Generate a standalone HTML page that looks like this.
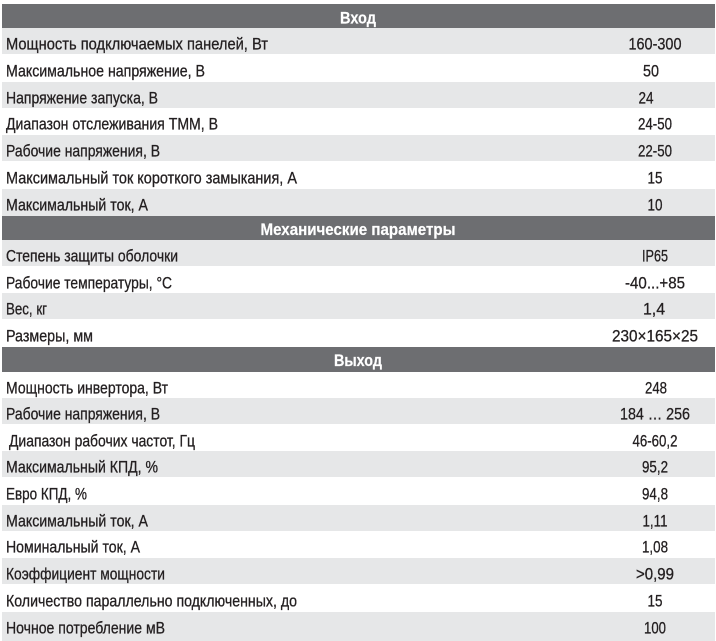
<!DOCTYPE html>
<html><head><meta charset="utf-8"><style>
html,body{margin:0;padding:0;background:#fff;width:716px;height:641px;overflow:hidden}
svg{display:block}
.l{font-family:"Liberation Sans","DejaVu Sans",sans-serif;font-size:16.5px;fill:#231f20;stroke:#231f20;stroke-width:0.3px}
.v{font-family:"Liberation Sans","DejaVu Sans",sans-serif;font-size:16.5px;fill:#231f20;stroke:#231f20;stroke-width:0.3px;text-anchor:middle}
.h{font-family:"Liberation Sans","DejaVu Sans",sans-serif;font-size:16.5px;font-weight:bold;fill:#fff;stroke:#fff;stroke-width:0.2px;text-anchor:middle}
</style></head><body>
<svg width="716" height="641" viewBox="0 0 716 641" xmlns="http://www.w3.org/2000/svg">
<rect x="0" y="0" width="716" height="641" fill="#fff"/>
<!-- headers -->
<rect x="2" y="4" width="713" height="24" fill="#6d6e71"/>
<rect x="2" y="216" width="713" height="24" fill="#6d6e71"/>
<rect x="2" y="347" width="713" height="25" fill="#6d6e71"/>
<!-- grey rows -->
<g fill="#e6e7e8">
<rect x="2" y="28" width="713" height="26"/>
<rect x="2" y="82" width="713" height="26"/>
<rect x="2" y="135" width="713" height="26"/>
<rect x="2" y="189" width="713" height="27"/>
<rect x="2" y="240" width="713" height="26"/>
<rect x="2" y="293" width="713" height="26"/>
<rect x="2" y="398" width="713" height="26"/>
<rect x="2" y="451" width="713" height="26"/>
<rect x="2" y="505" width="713" height="26"/>
<rect x="2" y="558" width="713" height="26"/>
<rect x="2" y="612" width="713" height="29"/>
</g>
<!-- header text -->
<text class="h" x="358" y="23.5" textLength="36" lengthAdjust="spacingAndGlyphs">Вход</text>
<text class="h" x="358" y="235" textLength="195" lengthAdjust="spacingAndGlyphs">Механические параметры</text>
<text class="h" x="358" y="366" textLength="48" lengthAdjust="spacingAndGlyphs">Выход</text>
<!-- Вход -->
<text class="l" x="6" y="49.5" textLength="262" lengthAdjust="spacingAndGlyphs">Мощность подключаемых панелей, Вт</text>
<text class="v" x="655" y="49.5" textLength="53" lengthAdjust="spacingAndGlyphs">160-300</text>
<text class="l" x="6" y="76.5" textLength="199" lengthAdjust="spacingAndGlyphs">Максимальное напряжение, В</text>
<text class="v" x="651" y="76.5" textLength="16" lengthAdjust="spacingAndGlyphs">50</text>
<text class="l" x="6" y="103.5" textLength="152" lengthAdjust="spacingAndGlyphs">Напряжение запуска, В</text>
<text class="v" x="646" y="103.5" textLength="15" lengthAdjust="spacingAndGlyphs">24</text>
<text class="l" x="6" y="129.5" textLength="212" lengthAdjust="spacingAndGlyphs">Диапазон отслеживания ТММ, В</text>
<text class="v" x="655" y="129.5" textLength="34" lengthAdjust="spacingAndGlyphs">24-50</text>
<text class="l" x="6" y="156.5" textLength="154" lengthAdjust="spacingAndGlyphs">Рабочие напряжения, В</text>
<text class="v" x="655" y="156.5" textLength="34" lengthAdjust="spacingAndGlyphs">22-50</text>
<text class="l" x="6" y="183.5" textLength="291" lengthAdjust="spacingAndGlyphs">Максимальный ток короткого замыкания, А</text>
<text class="v" x="655" y="183.5" textLength="15" lengthAdjust="spacingAndGlyphs">15</text>
<text class="l" x="6" y="210.5" textLength="142" lengthAdjust="spacingAndGlyphs">Максимальный ток, А</text>
<text class="v" x="655" y="210.5" textLength="15" lengthAdjust="spacingAndGlyphs">10</text>
<!-- Механические -->
<text class="l" x="6" y="261.5" textLength="172" lengthAdjust="spacingAndGlyphs">Степень защиты оболочки</text>
<text class="v" x="655" y="261.5" textLength="26" lengthAdjust="spacingAndGlyphs">IP65</text>
<text class="l" x="6" y="288.5" textLength="166" lengthAdjust="spacingAndGlyphs">Рабочие температуры, °С</text>
<text class="v" x="655" y="288.5" textLength="60" lengthAdjust="spacingAndGlyphs">-40...+85</text>
<text class="l" x="6" y="314.5" textLength="41" lengthAdjust="spacingAndGlyphs">Вес, кг</text>
<text class="v" x="654" y="314.5" textLength="22" lengthAdjust="spacingAndGlyphs">1,4</text>
<text class="l" x="6" y="341.5" textLength="87" lengthAdjust="spacingAndGlyphs">Размеры, мм</text>
<text class="v" x="655" y="341.5" textLength="86" lengthAdjust="spacingAndGlyphs">230×165×25</text>
<!-- Выход -->
<text class="l" x="6" y="393.5" textLength="162" lengthAdjust="spacingAndGlyphs">Мощность инвертора, Вт</text>
<text class="v" x="656" y="393.5" textLength="22" lengthAdjust="spacingAndGlyphs">248</text>
<text class="l" x="6" y="419.5" textLength="154" lengthAdjust="spacingAndGlyphs">Рабочие напряжения, В</text>
<text class="v" x="655" y="419.5" textLength="70" lengthAdjust="spacingAndGlyphs">184 … 256</text>
<text class="l" x="9" y="446.5" textLength="186" lengthAdjust="spacingAndGlyphs">Диапазон рабочих частот, Гц</text>
<text class="v" x="655" y="446.5" textLength="45" lengthAdjust="spacingAndGlyphs">46-60,2</text>
<text class="l" x="6" y="472.5" textLength="152" lengthAdjust="spacingAndGlyphs">Максимальный КПД, %</text>
<text class="v" x="655" y="472.5" textLength="26" lengthAdjust="spacingAndGlyphs">95,2</text>
<text class="l" x="6" y="499.5" textLength="81" lengthAdjust="spacingAndGlyphs">Евро КПД, %</text>
<text class="v" x="655" y="499.5" textLength="26" lengthAdjust="spacingAndGlyphs">94,8</text>
<text class="l" x="6" y="526.5" textLength="142" lengthAdjust="spacingAndGlyphs">Максимальный ток, А</text>
<text class="v" x="655" y="526.5" textLength="25" lengthAdjust="spacingAndGlyphs">1,11</text>
<text class="l" x="6" y="552.5" textLength="134" lengthAdjust="spacingAndGlyphs">Номинальный ток, А</text>
<text class="v" x="655" y="552.5" textLength="26" lengthAdjust="spacingAndGlyphs">1,08</text>
<text class="l" x="6" y="579.5" textLength="159" lengthAdjust="spacingAndGlyphs">Коэффициент мощности</text>
<text class="v" x="655" y="579.5" textLength="38" lengthAdjust="spacingAndGlyphs">&gt;0,99</text>
<text class="l" x="6" y="606.5" textLength="291" lengthAdjust="spacingAndGlyphs">Количество параллельно подключенных, до</text>
<text class="v" x="655" y="606.5" textLength="15" lengthAdjust="spacingAndGlyphs">15</text>
<text class="l" x="6" y="633.5" textLength="159" lengthAdjust="spacingAndGlyphs">Ночное потребление мВ</text>
<text class="v" x="655" y="633.5" textLength="22" lengthAdjust="spacingAndGlyphs">100</text>
</svg>
</body></html>
